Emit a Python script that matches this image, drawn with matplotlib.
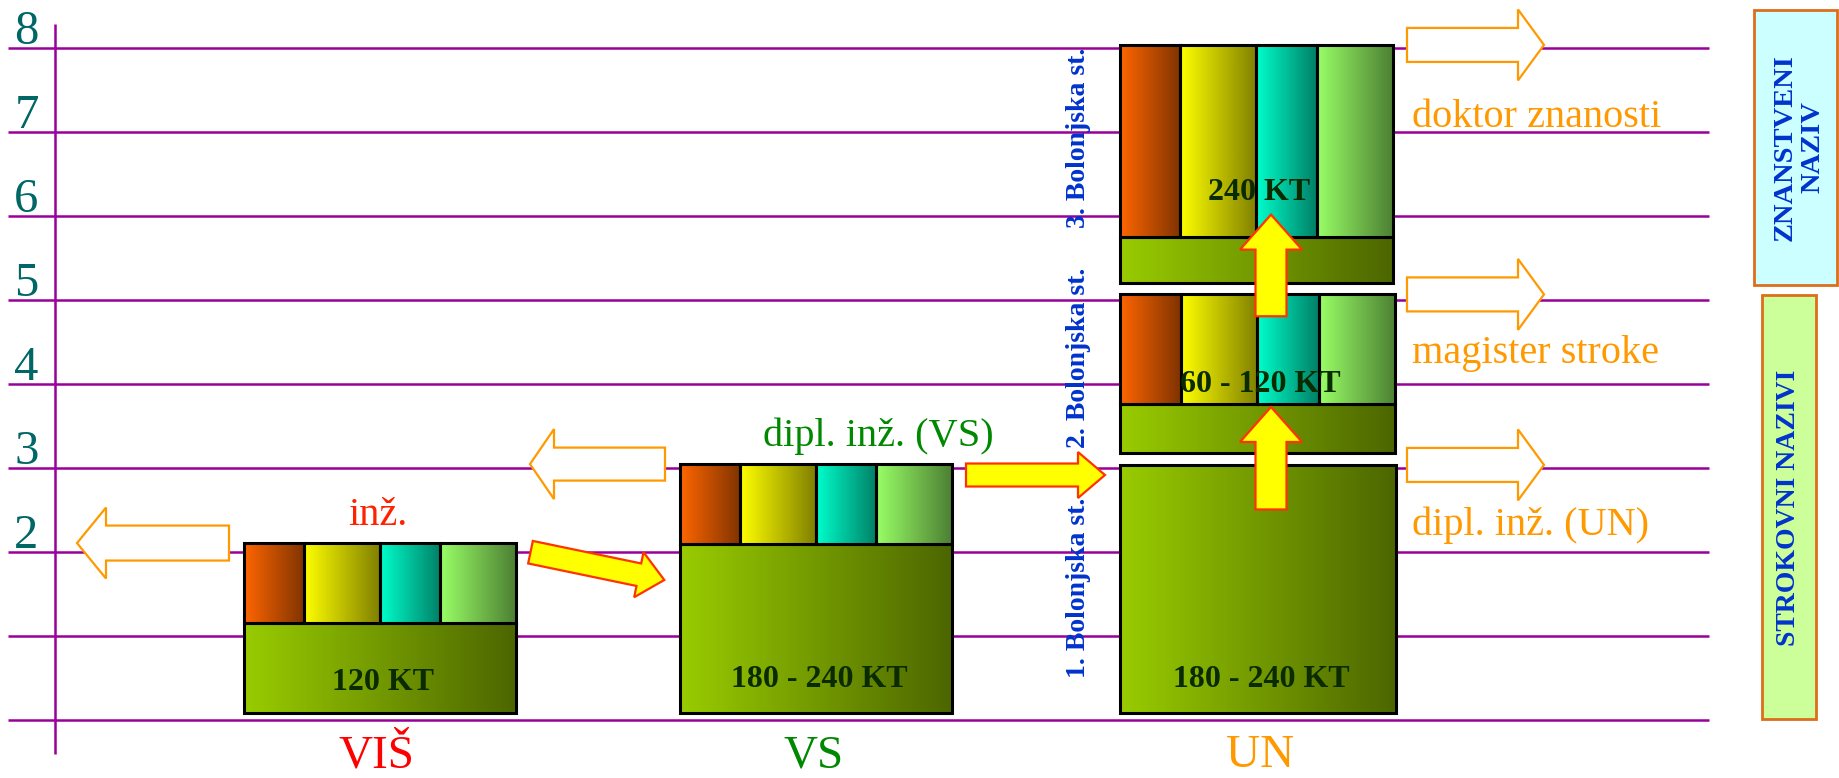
import numpy as np
import matplotlib
matplotlib.use("Agg")
import matplotlib.pyplot as plt
from matplotlib.patches import Rectangle, Polygon
from matplotlib.colors import to_rgb

plt.rcParams['font.family'] = ['Liberation Serif', 'DejaVu Serif']

# --- data -------------------------------------------------------------
grid_levels = [0, 1, 2, 3, 4, 5, 6, 7, 8]
tick_levels = [2, 3, 4, 5, 6, 7, 8]
categories = ["VIŠ", "VS", "UN"]

# blocks: category, bottom, split (None = no columns), top, credits
block_cat = [0, 1, 2, 2, 2]
block_bottom = [0.09, 0.09, 0.09, 3.18, 5.21]
block_split = [1.16, 2.10, None, 3.76, 5.75]
block_top = [2.11, 3.05, 3.04, 5.07, 8.04]
block_credits = ["120 KT", "180 - 240 KT", "180 - 240 KT", "60 - 120 KT", "240 KT"]
credit_base = [0.36, 0.40, 0.40, 3.91, 6.19]

bologna_labels = ["1. Bolonjska st.", "2. Bolonjska st.", "3. Bolonjska st."]
bologna_levels = [1.58, 4.32, 6.94]

titles_left = ["inž.", "dipl. inž. (VS)"]
titles_left_levels = [2.32, 3.27]
titles_right = ["dipl. inž. (UN)", "magister stroke", "doktor znanosti"]
titles_right_levels = [2.21, 4.25, 7.06]

side_boxes = ["ZNANSTVENI\nNAZIV", "STROKOVNI NAZIVI"]

# --- layout / style ---------------------------------------------------
S = 84.0  # pixels per level
cat_x = [376, 814, 1260]
cat_colors = ["#ff0000", "#008800", "#ff9900"]
block_x = [244, 680, 1120, 1120, 1120]
block_w = [272, 272, 276, 275, 273]
col_frac = [0.221, 0.279, 0.222, 0.278]
col_colors = ["#ff6600", "#ffff00", "#00ffcc", "#99ff66"]
base_color = "#99cc00"
title_left_x = [378, 878]
grid_col = "#990099"
orange = "#ff9900"

fig = plt.figure(figsize=(18.39, 7.78), dpi=100)
ax = fig.add_axes([0, 0, 1, 1])
ax.axis('off')


def gradient(x0, x1, y0, y1, c, z=2):
    c0 = np.array(to_rgb(c))
    t = np.linspace(0, 1, 256)[:, None]
    arr = (c0 * (1 - t) + c0 * 0.5 * t)[None, :, :]
    ax.imshow(arr, extent=[x0, x1, y0, y1], aspect='auto',
              interpolation='bilinear', zorder=z)
    ax.add_patch(Rectangle((x0, y0), x1 - x0, y1 - y0, fill=False,
                           ec='black', lw=2.2, zorder=z + 0.5))


def arrow(x0, y0, x1, y1, shaft, head, hlen, fc, ec, z=5, lw=1.6):
    p0 = np.array([x0, y0 * S])
    p1 = np.array([x1, y1 * S])
    d = (p1 - p0) / np.linalg.norm(p1 - p0)
    n = np.array([-d[1], d[0]])
    b = p1 - d * hlen
    pts = [p0 + n * shaft / 2, b + n * shaft / 2, b + n * head / 2, p1,
           b - n * head / 2, b - n * shaft / 2, p0 - n * shaft / 2]
    pts = [(p[0], p[1] / S) for p in pts]
    ax.add_patch(Polygon(pts, closed=True, fc=fc, ec=ec, lw=lw, zorder=z))


# grid lines and axis
ax.hlines(grid_levels, 8, 1709, color=grid_col, lw=1.8, zorder=1)
ax.vlines(55, -0.40, 8.29, color=grid_col, lw=1.8, zorder=1)
for lv in tick_levels:
    ax.text(26.5, lv + 0.05, str(lv), ha='center', va='baseline',
            fontsize=35, color='#006666')

# category labels
for x, name, c in zip(cat_x, categories, cat_colors):
    ax.text(x, -0.676, name, ha='center', va='bottom', fontsize=34, color=c)

# blocks
for i in range(len(block_cat)):
    x0 = block_x[i]
    w = block_w[i]
    bot, spl, top = block_bottom[i], block_split[i], block_top[i]
    if spl is None:
        gradient(x0, x0 + w, bot, top, base_color)
    else:
        gradient(x0, x0 + w, bot, spl, base_color)
        cx = x0
        for f, c in zip(col_frac, col_colors):
            gradient(cx, cx + f * w, spl, top, c, z=2.6)
            cx += f * w
    ax.text(x0 + w / 2 + 3, credit_base[i], block_credits[i], ha='center',
            va='baseline', fontsize=23, fontweight='bold', color='#0a2a00',
            zorder=4)

# Bologna stage labels
for lab, lv in zip(bologna_labels, bologna_levels):
    ax.text(1079, lv, lab, rotation=90, ha='center', va='center',
            fontsize=20, fontweight='bold', color='#0033cc', zorder=4)

# titles
ax.text(title_left_x[0], titles_left_levels[0], titles_left[0], ha='center',
        va='baseline', fontsize=29, color='#ff2200')
ax.text(title_left_x[1], titles_left_levels[1], titles_left[1], ha='center',
        va='baseline', fontsize=29, color='#008800')
for t, lv in zip(titles_right, titles_right_levels):
    ax.text(1412, lv, t, ha='left', va='baseline', fontsize=29, color=orange)

# outline arrows (right: to titles, left: older titles)
for lv in [block_top[4], block_top[3], block_top[2]]:
    arrow(1407, lv, 1544, lv, 34, 71, 26, 'white', orange, z=3)
arrow(665, block_top[1], 530, block_top[1], 33, 70, 24, 'white', orange, z=3)
arrow(229, block_top[0], 77, block_top[0], 35, 71, 29, 'white', orange, z=3)

# filled yellow arrows (transitions)
yel, red = '#ffff00', '#ff3300'
arrow(530.5, (720.3 - 552.2) / S, 664.3, (720.3 - 580) / S, 23, 46, 26, yel, red)
arrow(966, 2.92, 1105, 2.92, 23, 46, 27, yel, red)
arrow(1271, 2.51, 1271, 3.73, 31, 62, 35, yel, red)
arrow(1271, 4.81, 1271, 6.02, 31, 62, 35, yel, red)

# side boxes
ax.add_patch(Rectangle((1754, 5.18), 83, 8.456 - 5.18, fc='#ccffff',
                       ec='#dd6e1a', lw=2, zorder=2))
ax.add_patch(Rectangle((1762, 0.015), 54, 5.06 - 0.015, fc='#ccff99',
                       ec='#dd6e1a', lw=2, zorder=2))
ax.text(1799, 6.82, side_boxes[0], rotation=90, ha='center', va='center',
        multialignment='center', fontsize=20.5, fontweight='bold',
        color='#0033cc', linespacing=1.15, zorder=4)
ax.text(1789, 2.53, side_boxes[1], rotation=90, ha='center', va='center',
        fontsize=20, fontweight='bold', color='#0033cc', zorder=4)

ax.set_xlim(0, 1839)
ax.set_ylim(-0.687, 8.575)
fig.savefig("out.png", dpi=100, facecolor='white')
